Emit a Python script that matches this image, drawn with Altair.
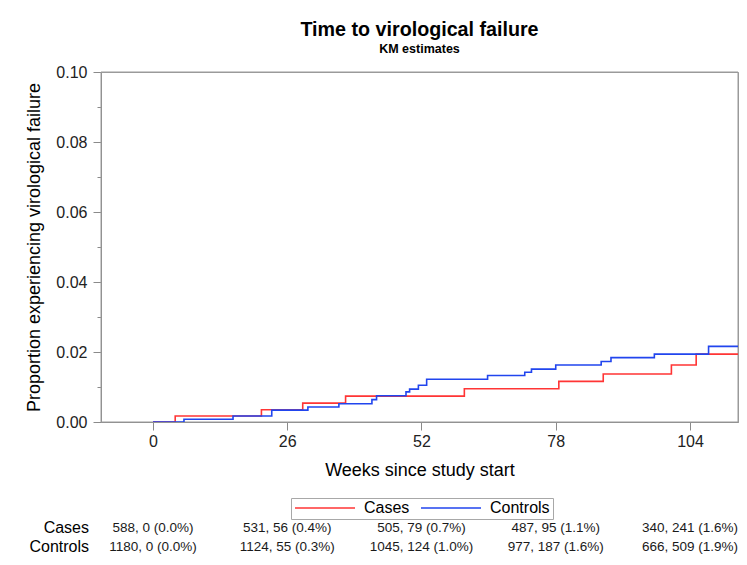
import altair as alt
import pandas as pd

FONT = "Liberation Sans"

# ---- data ----
groups = ["Cases", "Controls"]
week_ticks = [0, 26, 52, 78, 104]
y_ticks = [0.00, 0.01, 0.02, 0.03, 0.04, 0.05, 0.06, 0.07, 0.08, 0.09, 0.10]

cases_weeks = [0, 4.3, 21.0, 29.0, 37.3, 60.3, 78.6, 87.2, 100.4, 105.2, 113.5]
cases_prop = [0, 0.0017, 0.0035, 0.0054, 0.0074, 0.0095, 0.0116, 0.0137, 0.0163, 0.0194, 0.0194]

controls_weeks = [0, 6.0, 15.5, 23.0, 30.0, 36.0, 42.4, 43.3, 49.0, 49.7, 51.4, 53.0,
                  64.8, 72.0, 73.3, 78.0, 86.8, 88.7, 97.1, 107.6, 113.5]
controls_prop = [0, 0.0008, 0.0017, 0.0034, 0.0043, 0.0052, 0.0064, 0.0075, 0.0086, 0.0094, 0.0105, 0.0122,
                 0.0133, 0.0142, 0.0151, 0.0163, 0.0173, 0.0184, 0.0194, 0.0216, 0.0216]

risk_cases = ["588, 0 (0.0%)", "531, 56 (0.4%)", "505, 79 (0.7%)", "487, 95 (1.1%)", "340, 241 (1.6%)"]
risk_controls = ["1180, 0 (0.0%)", "1124, 55 (0.3%)", "1045, 124 (1.0%)", "977, 187 (1.6%)", "666, 509 (1.9%)"]

colors = ["#ff3535", "#2145ee"]

# ---- tables ----
km = pd.DataFrame({
    "group": ["Cases"] * len(cases_weeks) + ["Controls"] * len(controls_weeks),
    "week": cases_weeks + controls_weeks,
    "prop": cases_prop + controls_prop,
    "idx": list(range(len(cases_weeks))) + list(range(len(controls_weeks))),
})
risk = pd.DataFrame({
    "group": ["Cases"] * 5 + ["Controls"] * 5,
    "week": week_ticks * 2,
    "txt": risk_cases + risk_controls,
})
rows = pd.DataFrame({"group": groups})
frame_df = pd.DataFrame({"k": [0]})

x_scale = alt.Scale(domain=[-10.07, 113.3], nice=False, zero=False)
x_axis = alt.Axis(values=week_ticks, format="d", title="Weeks since study start", grid=False,
                  tickSize=8, labelFontSize=16, titleFontSize=18, titleFontWeight="normal",
                  labelPadding=3, titlePadding=12, labelFont=FONT, titleFont=FONT)
odd = "round(datum.value*100) % 2 == 1"
y_axis = alt.Axis(values=y_ticks, grid=False,
                  labelExpr=f"{odd} ? '' : format(datum.value, '.2f')",
                  tickSize={"condition": {"test": odd, "value": 4}, "value": 8},
                  labelPadding=6, labelFontSize=16, titleFontSize=18, titleFontWeight="normal",
                  titlePadding=12, labelFont=FONT, titleFont=FONT,
                  title="Proportion experiencing virological failure")

row_scale = alt.Scale(type="point", domain=groups, range=[456, 475], padding=0)

# plot-area frame (top / right sides of the box)
frame = alt.Chart(frame_df).mark_rect(filled=False, stroke="#9a9a9a", strokeWidth=1).encode(
    x=alt.value(0), x2=alt.value("width"), y=alt.value(0), y2=alt.value("height"),
)

lines = alt.Chart(km).mark_line(interpolate="step-after", strokeWidth=1.6, clip=True).encode(
    x=alt.X("week:Q", scale=x_scale, axis=x_axis),
    y=alt.Y("prop:Q", scale=alt.Scale(domain=[0, 0.1], nice=False, zero=True), axis=y_axis),
    color=alt.Color("group:N", scale=alt.Scale(domain=groups, range=colors),
                    legend=alt.Legend(title=None, orient="none", legendX=190, legendY=426,
                                      direction="horizontal", symbolType="stroke", symbolSize=3600,
                                      symbolStrokeWidth=1.6, clipHeight=14, labelFontSize=16,
                                      labelFont=FONT, labelOffset=8, columnPadding=10, padding=3,
                                      strokeColor="#a8a8a8", labelColor="black")),
    order="idx:Q",
)

table = alt.Chart(risk).mark_text(fontSize=13.5, font=FONT, baseline="middle", align="center",
                                  color="#1a1a1a").encode(
    x=alt.X("week:Q", scale=x_scale, axis=x_axis),
    y=alt.Y("group:N", scale=row_scale, axis=None),
    text="txt:N",
)

row_labels = alt.Chart(rows).mark_text(fontSize=16, font=FONT, baseline="middle", align="right",
                                       color="black").encode(
    x=alt.value(-12),
    y=alt.Y("group:N", scale=row_scale, axis=None),
    text="group:N",
)

chart = alt.layer(frame, lines, table, row_labels).resolve_scale(y="independent").properties(
    width=637,
    height=350,
    background="white",
    padding={"left": 93, "top": 64, "right": 1, "bottom": 135},
    autosize=alt.AutoSizeParams(type="none"),
    title=alt.TitleParams("Time to virological failure", subtitle="KM estimates",
                          font=FONT, subtitleFont=FONT, fontSize=19.7, subtitleFontSize=12.5,
                          fontWeight="bold", subtitleFontWeight="bold", anchor="middle",
                          offset=9, subtitlePadding=3, color="black", subtitleColor="black"),
).configure_view(stroke="#9a9a9a", strokeWidth=1).configure_axis(
    domainColor="#8a8a8a", tickColor="#8a8a8a", labelColor="#222222", titleColor="black"
)

chart.save("out.html", embed_options={"renderer": "svg", "actions": False})
